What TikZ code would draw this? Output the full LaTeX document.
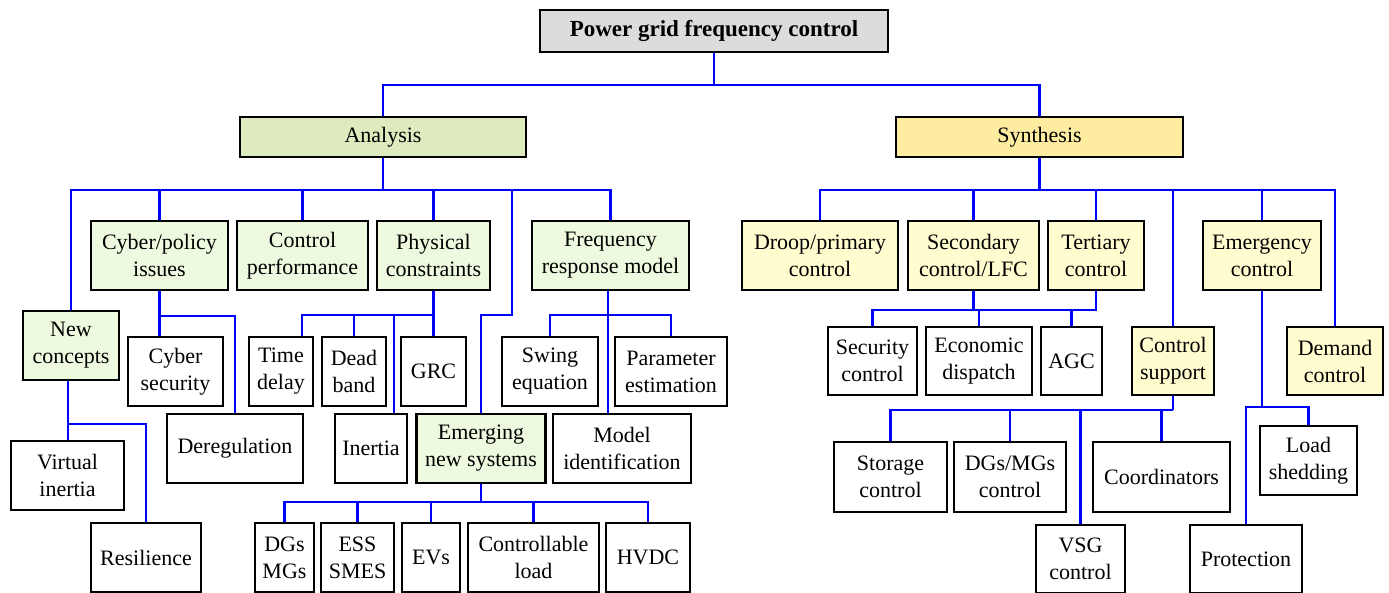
\documentclass[tikz,border=0pt]{standalone}
\usepackage{fontspec}
\setmainfont{Liberation Serif}
\usetikzlibrary{backgrounds}
\definecolor{rootfill}{RGB}{220,220,220}
\definecolor{anafill}{RGB}{221,235,191}
\definecolor{synfill}{RGB}{254,237,160}
\definecolor{gfill}{RGB}{238,250,224}
\definecolor{yfill}{RGB}{255,252,208}
\definecolor{conncol}{RGB}{0,0,255}
\tikzset{
  base/.style={draw=black, line width=2.8pt, inner sep=0pt, align=center, font=\fontsize{22}{27}\selectfont},
  wbox/.style={base, fill=white},
  gbox/.style={base, fill=gfill},
  ybox/.style={base, fill=yfill},
  conn/.style={draw=conncol, line width=2.3pt},
  sz/.style 2 args={minimum width=#1pt, minimum height=#2pt}
}
\begin{document}
\begin{tikzpicture}[x=1pt,y=-1pt]
\useasboundingbox (0,0) rectangle (1389,592);
% top
\node[base, fill=rootfill, sz={348}{42}, font=\fontsize{23}{27}\selectfont\bfseries] (root) at (714,31) {Power grid frequency control};
\node[base, fill=anafill, sz={286}{40}] (analysis) at (383,137) {Analysis};
\node[base, fill=synfill, sz={287}{40}] (synthesis) at (1039.5,137) {Synthesis};
% analysis side
\node[gbox, sz={137}{69}] (cyber) at (159.5,255.5) {Cyber/policy\\issues};
\node[gbox, sz={131}{69}] (ctrlperf) at (302.5,255.5) {Control\\performance};
\node[gbox, sz={113}{69}] (phys) at (433.5,255.5) {Physical\\constraints};
\node[gbox, sz={157}{69}] (freq) at (610.5,255.5) {Frequency\\response model};
\node[gbox, sz={96}{69}] (newc) at (71,345.5) {New\\concepts};
\node[wbox, sz={95}{69}] (cybsec) at (175.5,371.5) {Cyber\\security};
\node[wbox, sz={64}{69}] (tdelay) at (281,371.5) {Time\\delay};
\node[wbox, sz={64}{69}] (dband) at (354,371.5) {Dead\\band};
\node[wbox, sz={65}{69}] (grc) at (433.5,371.5) {GRC};
\node[wbox, sz={96}{69}] (swing) at (550,371.5) {Swing\\equation};
\node[wbox, sz={112}{69}] (param) at (671,371.5) {Parameter\\estimation};
\node[wbox, sz={136}{69}] (dereg) at (235,448.5) {Deregulation};
\node[wbox, sz={72}{69}] (inertia) at (371,448.5) {Inertia};
\node[gbox, sz={129}{69}] (emerg) at (481,448.5) {Emerging\\new systems};
\node[wbox, sz={138}{69}] (modelid) at (622,448.5) {Model\\identification};
\node[wbox, sz={113}{69}] (vinertia) at (67.5,475.5) {Virtual\\inertia};
\node[wbox, sz={110}{69}] (resil) at (146,557.5) {Resilience};
\node[wbox, sz={59}{69}] (dgs) at (284.5,557.5) {DGs\\MGs};
\node[wbox, sz={73}{69}] (ess) at (357.5,557.5) {ESS\\SMES};
\node[wbox, sz={58}{69}] (evs) at (431,557.5) {EVs};
\node[wbox, sz={131}{69}] (ctrlload) at (533.5,557.5) {Controllable\\load};
\node[wbox, sz={84}{69}] (hvdc) at (648,557.5) {HVDC};
% synthesis side
\node[ybox, sz={156}{69}] (droop) at (820,255.5) {Droop/primary\\control};
\node[ybox, sz={131}{69}] (second) at (973.5,255.5) {Secondary\\control/LFC};
\node[ybox, sz={96}{69}] (tert) at (1096,255.5) {Tertiary\\control};
\node[ybox, sz={118}{69}] (emergc) at (1262,255.5) {Emergency\\control};
\node[wbox, sz={89}{68}] (secctl) at (872.5,361) {Security\\control};
\node[wbox, sz={106}{68}] (econ) at (979,361) {Economic\\dispatch};
\node[wbox, sz={61}{68}] (agc) at (1071.5,361) {AGC};
\node[ybox, sz={82}{68}] (csupp) at (1173,361) {Control\\support};
\node[ybox, sz={96}{68}] (demand) at (1335,361) {Demand\\control};
\node[wbox, sz={113}{70}] (storage) at (890.5,477) {Storage\\control};
\node[wbox, sz={112}{70}] (dgsmgs) at (1010,477) {DGs/MGs\\control};
\node[wbox, sz={137}{70}] (coord) at (1161.5,477) {Coordinators};
\node[wbox, sz={97}{69}] (loadshed) at (1308.5,460.5) {Load\\shedding};
\node[wbox, sz={89}{68}] (vsg) at (1080.5,559) {VSG\\control};
\node[wbox, sz={112}{68}] (prot) at (1246,559) {Protection};

\begin{scope}[on background layer]
\fill[white] (0,0) rectangle (1389,592);
% top level
\coordinate (j0) at (714,85);
\draw[conn] (root.south) -- (j0);
\draw[conn] (analysis.north) |- (j0) -| (synthesis.north);
% analysis bus
\coordinate (jA) at (383,190);
\draw[conn] (analysis.south) -- (jA);
\draw[conn] (newc.north) |- (jA) -| (freq.north);
\foreach \n in {cyber,ctrlperf,phys} \draw[conn] (\n.north) -- (\n.north |- jA);
\coordinate (jE1) at (512,190);
\coordinate (jE2) at (512,315);
\draw[conn] (jE1) -- (jE2) -| (emerg.north);
% cyber/policy
\coordinate (yC) at (0,316);
\draw[conn] (cyber.south) -- (cyber.south |- cybsec.north);
\draw[conn] (cyber.south |- yC) -| (dereg.north);
% physical constraints
\coordinate (yP) at (0,315);
\coordinate (tdx) at (302,0);
\coordinate (inx) at (394,0);
\draw[conn] (phys.south) -- (grc.north);
\draw[conn] (tdelay.north -| tdx) |- (phys.south |- yP);
\draw[conn] (dband.north) -- (dband.north |- yP);
\draw[conn] (inertia.north -| inx) -- (inx |- yP);
% frequency response model
\coordinate (mx) at (608,0);
\draw[conn] (freq.south -| mx) -- (modelid.north -| mx);
\draw[conn] (swing.north) |- (mx |- yP) -| (param.north);
% new concepts
\coordinate (nx) at (68,0);
\coordinate (yN) at (0,424);
\draw[conn] (newc.south -| nx) -- (vinertia.north -| nx);
\draw[conn] (nx |- yN) -| (resil.north);
% emerging new systems
\coordinate (yEm) at (0,502);
\draw[conn] (emerg.south) -- (emerg.south |- yEm);
\draw[conn] (dgs.north) |- (emerg.south |- yEm) -| (hvdc.north);
\foreach \n in {ess,evs,ctrlload} \draw[conn] (\n.north) -- (\n.north |- yEm);
% synthesis bus
\coordinate (jS) at (1039.5,190);
\draw[conn] (synthesis.south) -- (jS);
\draw[conn] (droop.north) |- (jS) -| (demand.north);
\foreach \n in {second,tert,csupp,emergc} \draw[conn] (\n.north) -- (\n.north |- jS);
% secondary / tertiary
\coordinate (yT) at (0,310);
\draw[conn] (second.south) |- (tert.south |- yT) -- (tert.south);
\draw[conn] (secctl.north) |- (agc.north |- yT) -- (agc.north);
\draw[conn] (econ.north) -- (econ.north |- yT);
% control support
\coordinate (yS) at (0,410);
\draw[conn] (csupp.south) -- (csupp.south |- yS);
\draw[conn] (storage.north) |- (csupp.south |- yS);
\foreach \n in {dgsmgs,vsg,coord} \draw[conn] (\n.north) -- (\n.north |- yS);
% emergency control
\coordinate (yEg) at (0,407);
\draw[conn] (emergc.south) -- (emergc.south |- yEg);
\draw[conn] (prot.north) |- (emergc.south |- yEg) -| (loadshed.north);
\end{scope}
\end{tikzpicture}
\end{document}
